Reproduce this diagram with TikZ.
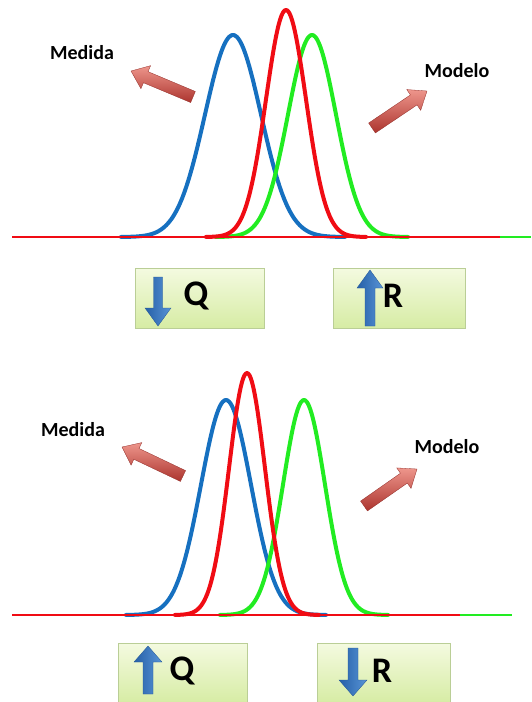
\documentclass[tikz,border=0pt]{standalone}
\usepackage{fontspec}
\setmainfont{Carlito}
\usetikzlibrary{calc}

\definecolor{curveblue}{RGB}{22,112,192}
\definecolor{curvered}{RGB}{240,12,20}
\definecolor{curvegreen}{RGB}{34,236,34}
\definecolor{boxtop}{RGB}{244,250,224}
\definecolor{boxbot}{RGB}{214,236,164}
\definecolor{boxline}{RGB}{186,206,150}
\definecolor{hintlight}{RGB}{238,150,140}
\definecolor{hintdark}{RGB}{172,52,46}
\definecolor{qrlight}{RGB}{88,148,214}
\definecolor{qrdark}{RGB}{38,96,168}

% #1 style, #2 tail, #3 tip, #4 half shaft, #5 half head, #6 head length
\newcommand{\fatarrow}[6][]{%
  \coordinate (fa-h) at ($(#3)!#6!(#2)$);
  \path[#1] ($(#2)!#4!90:(#3)$) -- ($(fa-h)!#4!90:(#3)$) -- ($(fa-h)!#5!90:(#3)$)
    -- (#3) -- ($(fa-h)!#5!-90:(#3)$) -- ($(fa-h)!#4!-90:(#3)$) -- ($(#2)!#4!-90:(#3)$) -- cycle;
}

\tikzset{
  curve/.style={line width=4pt, line cap=round, line join=round},
  base/.style={line width=2.8pt},
  hint/.style={top color=hintlight, bottom color=hintdark, draw=hintdark!85!black, line width=0.3pt},
  qrarrow/.style={left color=qrdark, right color=qrlight, draw=qrdark!90!black, line width=0.3pt},
  qrbox/.style={draw=boxline, line width=0.7pt, top color=boxtop, bottom color=boxbot,
    minimum height=60pt, inner sep=0pt},
  letter/.style={font=\bfseries\fontsize{36}{36}\selectfont, inner sep=0pt},
  tag/.style={font=\bfseries\fontsize{20}{20}\selectfont, inner sep=0pt}
}

\begin{document}
\begin{tikzpicture}[x=1pt,y=-1pt]
  \useasboundingbox (0,0) rectangle (531,702);

  % upper panel
  \draw[base, curvegreen] (12,237) -- (531,237);
  \foreach \col/\ctr/\sg/\pk in {curveblue/233/28/35, curvegreen/312/24/35, curvered/286/20/10} {
    \pgfmathsetmacro\lo{\ctr-4*\sg}
    \pgfmathsetmacro\hi{\ctr+4*\sg}
    \draw[curve, \col] plot[domain=\lo:\hi, samples=90, smooth]
      (\x, {237-(237-\pk)*exp(-0.5*((\x-\ctr)/\sg)^2)});
  }
  \draw[base, curvered] (12,237) -- (500,237);
  \node[tag] (medtop) at (82,53) {Medida};
  \node[tag] (modtop) at (457,71) {Modelo};
  \coordinate (medtail) at (193,97);
  \coordinate (medtip) at (131,71);
  \coordinate (modtail) at (372,128);
  \coordinate (modtip) at (427,91);
  \fatarrow[hint]{medtail}{medtip}{6pt}{12.5pt}{16pt}
  \fatarrow[hint]{modtail}{modtip}{6pt}{12.5pt}{16pt}

  \node[qrbox, minimum width=129pt] (qtop) at (199.5,298) {};
  \node[qrbox, minimum width=132pt] (rtop) at (399,298) {};
  \fatarrow[qrarrow]{158,277}{158,326}{4.5pt}{13pt}{18pt}
  \fatarrow[qrarrow]{370,326}{370,270}{5pt}{13pt}{18pt}
  \node[letter] (qlettop) at (196,296) {Q};
  \node[letter] (rlettop) at (393,296) {R};

  % lower panel
  \draw[base, curvegreen] (12,615) -- (512,615);
  \foreach \col/\ctr/\sg/\pk in {curveblue/226/25/400, curvegreen/304/21/400, curvered/247/18/373} {
    \pgfmathsetmacro\lo{\ctr-4*\sg}
    \pgfmathsetmacro\hi{\ctr+4*\sg}
    \draw[curve, \col] plot[domain=\lo:\hi, samples=90, smooth]
      (\x, {615-(615-\pk)*exp(-0.5*((\x-\ctr)/\sg)^2)});
  }
  \draw[base, curvered] (12,615) -- (460,615);
  \node[tag] (medbot) at (73,430) {Medida};
  \node[tag] (modbot) at (447,447) {Modelo};
  \coordinate (medtailb) at (183,476);
  \coordinate (medtipb) at (122,447);
  \coordinate (modtailb) at (364,506);
  \coordinate (modtipb) at (417,469);
  \fatarrow[hint]{medtailb}{medtipb}{6pt}{12.5pt}{16pt}
  \fatarrow[hint]{modtailb}{modtipb}{6pt}{12.5pt}{16pt}

  \node[qrbox, minimum width=129pt] (qbot) at (182.5,673) {};
  \node[qrbox, minimum width=133pt] (rbot) at (383.5,673) {};
  \fatarrow[qrarrow]{148,694}{148,646}{5pt}{14pt}{16pt}
  \fatarrow[qrarrow]{353,648}{353,696}{5pt}{14pt}{16pt}
  \node[letter] (qletbot) at (182,671) {Q};
  \node[letter] (rletbot) at (382,671) {R};
\end{tikzpicture}
\end{document}
